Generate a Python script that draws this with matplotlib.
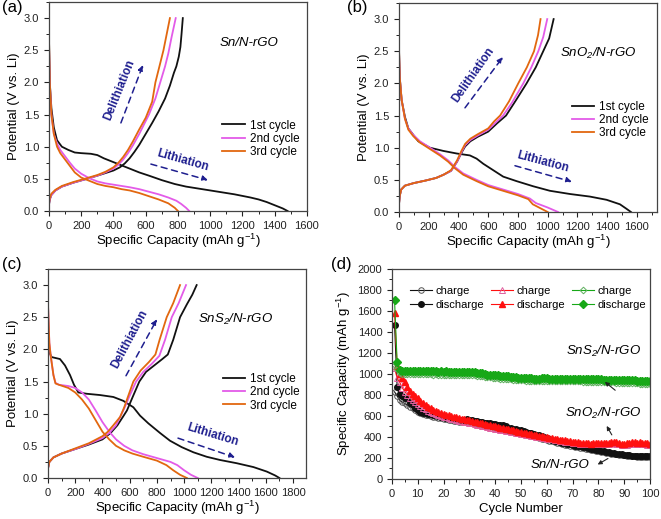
import matplotlib
matplotlib.use('Agg')
import matplotlib.pyplot as plt
from matplotlib.ticker import MultipleLocator

plt.rcParams['font.family'] = ['Liberation Sans', 'DejaVu Sans']
plt.rcParams['mathtext.fontset'] = 'custom'
plt.rcParams['mathtext.rm'] = 'Liberation Sans'
plt.rcParams['mathtext.it'] = 'Liberation Sans:italic'

# ---------------- data: panel (a) Sn/N-rGO ----------------
a1_dis_x = [0, 5, 15, 30, 50, 80, 120, 160, 200, 260, 300, 340, 400, 450, 500, 560, 620, 700, 780, 850,
            950, 1050, 1150, 1250, 1300, 1350, 1400, 1450, 1480]
a1_dis_y = [2.7, 2.0, 1.6, 1.3, 1.1, 1.0, 0.95, 0.91, 0.90, 0.89, 0.87, 0.82, 0.76, 0.71, 0.66, 0.60, 0.55, 0.48,
            0.42, 0.38, 0.34, 0.30, 0.26, 0.21, 0.18, 0.14, 0.09, 0.04, 0.0]
a1_chg_x = [0, 5, 15, 40, 80, 150, 220, 300, 350, 400, 440, 470, 500, 530, 560, 600, 640, 680, 720, 750,
            775, 790, 805, 815, 822, 830]
a1_chg_y = [0.10, 0.18, 0.25, 0.32, 0.38, 0.44, 0.49, 0.55, 0.59, 0.63, 0.68, 0.74, 0.82, 0.92, 1.03, 1.20,
            1.37, 1.55, 1.75, 1.95, 2.15, 2.25, 2.40, 2.55, 2.75, 3.0]
a2_dis_x = [0, 5, 15, 30, 50, 70, 100, 130, 160, 200, 250, 300, 350, 400, 450, 500, 560, 620, 680, 740,
            790, 820, 850, 870]
a2_dis_y = [2.6, 2.0, 1.5, 1.2, 1.05, 0.95, 0.85, 0.75, 0.66, 0.58, 0.51, 0.46, 0.43, 0.41, 0.39, 0.37, 0.34,
            0.30, 0.26, 0.21, 0.16, 0.11, 0.05, 0.0]
a2_chg_x = [0, 5, 15, 40, 80, 150, 220, 300, 350, 400, 430, 460, 490, 520, 560, 620, 660, 690, 720, 740,
            760, 786]
a2_chg_y = [0.10, 0.18, 0.25, 0.32, 0.38, 0.44, 0.49, 0.55, 0.60, 0.66, 0.72, 0.80, 0.90, 1.02, 1.20, 1.50,
            1.75, 2.0, 2.25, 2.45, 2.70, 3.0]
a3_dis_x = [0, 5, 15, 30, 50, 70, 100, 130, 160, 200, 250, 300, 350, 400, 450, 500, 560, 620, 680, 740,
            780, 800]
a3_dis_y = [2.7, 2.0, 1.5, 1.2, 1.0, 0.9, 0.8, 0.7, 0.6, 0.52, 0.47, 0.42, 0.39, 0.37, 0.34, 0.32, 0.28,
            0.23, 0.18, 0.12, 0.05, 0.0]
a3_chg_x = [0, 5, 15, 40, 80, 150, 220, 300, 350, 400, 430, 460, 490, 520, 560, 600, 640, 660, 690, 710,
            730, 750]
a3_chg_y = [0.12, 0.20, 0.27, 0.33, 0.39, 0.45, 0.50, 0.56, 0.61, 0.68, 0.75, 0.84, 0.95, 1.08, 1.27, 1.45,
            1.70, 2.0, 2.3, 2.5, 2.75, 3.0]

# ---------------- data: panel (b) SnO2/N-rGO ----------------
b1_dis_x = [0, 5, 18, 40, 63, 96, 130, 208, 298, 388, 477, 522, 567, 634, 701, 791, 903, 1015, 1150, 1284,
            1396, 1486, 1530, 1560]
b1_dis_y = [2.55, 2.1, 1.74, 1.48, 1.30, 1.20, 1.10, 1.0, 0.95, 0.91, 0.88, 0.83, 0.75, 0.65, 0.55, 0.48,
            0.40, 0.33, 0.28, 0.24, 0.19, 0.12, 0.05, 0.0]
b1_chg_x = [0, 5, 15, 40, 100, 180, 250, 300, 350, 390, 420, 445, 480, 530, 600, 660, 720, 790, 858, 920,
            970, 1010, 1040]
b1_chg_y = [0.12, 0.25, 0.35, 0.41, 0.45, 0.49, 0.53, 0.58, 0.64, 0.78, 0.92, 1.02, 1.10, 1.17, 1.25, 1.38,
            1.50, 1.75, 2.0, 2.25, 2.5, 2.7, 3.0]
b2_dis_x = [0, 5, 18, 40, 63, 96, 141, 208, 275, 332, 376, 432, 522, 600, 700, 800, 880, 920, 1000, 1070]
b2_dis_y = [2.5, 2.1, 1.74, 1.45, 1.30, 1.20, 1.10, 1.0, 0.9, 0.8, 0.7, 0.6, 0.5, 0.42, 0.35, 0.28, 0.21,
            0.14, 0.07, 0.0]
b2_chg_x = [0, 5, 15, 40, 100, 180, 250, 300, 350, 390, 420, 445, 480, 530, 600, 650, 700, 760, 836, 890,
            937, 970, 997]
b2_chg_y = [0.12, 0.25, 0.35, 0.41, 0.45, 0.49, 0.53, 0.58, 0.64, 0.78, 0.93, 1.04, 1.12, 1.19, 1.28, 1.39,
            1.50, 1.70, 2.0, 2.25, 2.5, 2.72, 3.0]
b3_dis_x = [0, 5, 18, 40, 63, 96, 141, 208, 275, 332, 376, 432, 522, 600, 700, 800, 870, 900, 950, 1000]
b3_dis_y = [2.55, 2.1, 1.74, 1.45, 1.28, 1.18, 1.08, 0.98, 0.88, 0.78, 0.68, 0.58, 0.48, 0.40, 0.33, 0.26,
            0.20, 0.12, 0.06, 0.0]
b3_chg_x = [0, 5, 15, 40, 100, 180, 250, 300, 350, 390, 420, 445, 480, 530, 600, 640, 680, 740, 802, 860,
            908, 935, 952]
b3_chg_y = [0.12, 0.25, 0.35, 0.41, 0.45, 0.49, 0.53, 0.58, 0.65, 0.80, 0.95, 1.06, 1.14, 1.21, 1.30, 1.41,
            1.50, 1.72, 2.0, 2.25, 2.5, 2.75, 3.0]

# ---------------- data: panel (c) SnS2/N-rGO ----------------
c1_dis_x = [0, 10, 27, 88, 125, 162, 191, 223, 284, 382, 480, 553, 627, 676, 737, 823, 896, 982, 1068, 1166,
            1264, 1386, 1509, 1607, 1668, 1700]
c1_dis_y = [2.2, 1.95, 1.88, 1.85, 1.75, 1.60, 1.45, 1.33, 1.31, 1.29, 1.26, 1.20, 1.10, 0.97, 0.85, 0.70,
            0.58, 0.48, 0.40, 0.33, 0.28, 0.23, 0.17, 0.10, 0.04, 0.0]
c1_chg_x = [0, 10, 40, 100, 200, 300, 400, 460, 510, 550, 580, 620, 671, 720, 780, 840, 880, 920, 970, 1020,
            1060, 1092]
c1_chg_y = [0.15, 0.25, 0.32, 0.38, 0.45, 0.52, 0.60, 0.70, 0.82, 0.95, 1.05, 1.25, 1.50, 1.65, 1.75, 1.85,
            1.92, 2.15, 2.5, 2.7, 2.85, 3.0]
c2_dis_x = [0, 10, 20, 40, 55, 80, 150, 200, 250, 300, 350, 400, 450, 500, 560, 620, 700, 800, 900, 950,
            1000, 1050, 1100]
c2_dis_y = [2.7, 2.1, 1.9, 1.6, 1.48, 1.45, 1.43, 1.40, 1.33, 1.22, 1.05, 0.87, 0.72, 0.60, 0.50, 0.43,
            0.37, 0.31, 0.25, 0.20, 0.12, 0.05, 0.0]
c2_chg_x = [0, 10, 40, 100, 200, 300, 400, 450, 500, 530, 560, 600, 647, 700, 760, 818, 860, 909, 960, 1014]
c2_chg_y = [0.15, 0.25, 0.32, 0.38, 0.45, 0.53, 0.62, 0.70, 0.82, 0.95, 1.08, 1.28, 1.50, 1.65, 1.77, 1.90,
            2.15, 2.5, 2.72, 3.0]
c3_dis_x = [0, 10, 20, 40, 55, 80, 150, 200, 250, 300, 350, 400, 450, 500, 560, 620, 700, 800, 870, 920,
            970, 1020]
c3_dis_y = [2.7, 2.1, 1.9, 1.6, 1.47, 1.45, 1.40, 1.33, 1.22, 1.08, 0.90, 0.72, 0.60, 0.50, 0.43, 0.38,
            0.33, 0.27, 0.20, 0.12, 0.05, 0.0]
c3_chg_x = [0, 10, 40, 100, 200, 300, 400, 440, 480, 530, 560, 590, 627, 680, 740, 789, 820, 872, 920, 970]
c3_chg_y = [0.15, 0.25, 0.32, 0.38, 0.46, 0.54, 0.65, 0.72, 0.82, 0.95, 1.10, 1.28, 1.50, 1.67, 1.80, 1.92,
            2.15, 2.5, 2.72, 3.0]

# ---------------- data: panel (d) cycling ----------------
cycles = list(range(1, 101))
sn_charge = [830, 790, 750, 730, 720, 700, 690, 675, 660, 640, 630, 615, 610, 605, 600, 595, 590, 585, 580, 575,
             570, 565, 560, 555, 550, 545, 540, 538, 545, 540, 535, 530, 525, 520, 515, 510, 505, 500, 495, 490,
             485, 480, 478, 470, 462, 455, 450, 445, 440, 435, 430, 422, 415, 412, 405, 398, 392, 385, 378, 372,
             365, 358, 350, 345, 338, 332, 327, 322, 317, 310, 305, 300, 298, 294, 290, 285, 280, 275, 270, 265,
             260, 255, 250, 246, 242, 238, 234, 230, 228, 225, 222, 220, 218, 215, 214, 212, 212, 210, 210, 208]
sn_discharge = [1470, 875, 810, 790, 770, 770, 725, 700, 680, 655, 640, 630, 625, 620, 615, 610, 605, 600, 595, 590,
                585, 580, 575, 570, 570, 565, 565, 560, 570, 565, 560, 555, 550, 545, 540, 535, 530, 530, 525, 520,
                515, 510, 510, 500, 490, 485, 480, 475, 470, 465, 460, 450, 440, 440, 430, 420, 415, 410, 400, 395,
                385, 375, 365, 360, 350, 345, 340, 335, 330, 320, 315, 310, 310, 305, 300, 295, 290, 285, 280, 275,
                270, 265, 260, 255, 250, 245, 240, 238, 235, 230, 228, 225, 222, 220, 220, 218, 218, 216, 215, 215]
sno2_charge = [1060, 960, 920, 870, 830, 800, 775, 750, 730, 715, 695, 680, 665, 650, 640, 630, 620, 610, 602, 595,
               588, 580, 573, 567, 561, 555, 550, 545, 540, 535, 529, 523, 517, 512, 507, 501, 496, 490, 485, 480,
               474, 469, 464, 459, 454, 449, 444, 440, 435, 430, 425, 420, 416, 412, 407, 403, 398, 394, 390, 385,
               381, 377, 373, 369, 365, 361, 357, 353, 350, 346, 343, 340, 337, 334, 336, 332, 330, 332, 335, 333,
               330, 332, 335, 334, 340, 338, 336, 334, 326, 322, 328, 334, 338, 336, 334, 338, 334, 330, 328, 322]
sno2_discharge = [1580, 1080, 1000, 965, 920, 880, 840, 810, 790, 770, 745, 725, 705, 690, 675, 660, 650, 640, 630,
                  620, 612, 605, 598, 592, 586, 580, 575, 570, 565, 560, 553, 547, 541, 535, 530, 524, 518, 512, 506,
                  500, 494, 488, 482, 477, 472, 467, 462, 457, 452, 447, 442, 437, 432, 427, 422, 417, 412, 407, 402,
                  397, 392, 388, 384, 380, 376, 372, 368, 364, 360, 356, 352, 348, 345, 342, 345, 340, 337, 340, 345,
                  342, 338, 340, 345, 343, 355, 350, 348, 345, 335, 330, 338, 345, 350, 348, 345, 350, 345, 340, 338,
                  330]
sns2_charge = [1090, 1050, 1005, 1000, 1002, 1000, 1001, 999, 1000, 998, 999, 997, 998, 996, 997, 995, 996, 994, 995,
               993, 994, 992, 993, 991, 992, 990, 991, 989, 990, 988, 987, 986, 985, 983, 980, 975, 970, 967, 964,
               960, 958, 956, 954, 952, 950, 948, 946, 944, 942, 940, 939, 938, 937, 936, 935, 935, 936, 937, 936,
               935, 935, 934, 934, 933, 933, 932, 932, 931, 931, 930, 930, 929, 929, 928, 927, 927, 926, 926, 925,
               925, 924, 923, 922, 921, 920, 919, 918, 917, 916, 915, 914, 913, 912, 911, 910, 909, 908, 907, 906,
               905]
sns2_discharge = [1700, 1110, 1035, 1030, 1030, 1028, 1030, 1027, 1028, 1026, 1028, 1025, 1027, 1025, 1026, 1024,
                  1025, 1023, 1025, 1022, 1024, 1022, 1023, 1021, 1022, 1020, 1021, 1019, 1020, 1018, 1017, 1015,
                  1014, 1012, 1010, 1000, 995, 992, 990, 988, 986, 984, 982, 980, 978, 976, 972, 968, 965, 965, 963,
                  962, 960, 958, 955, 955, 957, 958, 958, 958, 957, 957, 956, 956, 955, 955, 955, 954, 954, 953, 953,
                  952, 952, 951, 950, 950, 950, 949, 949, 948, 948, 947, 946, 946, 945, 944, 944, 943, 942, 942, 941,
                  940, 940, 939, 938, 938, 937, 936, 935, 935]

C_BLACK = '#111111'
C_PINK = '#e35be8'
C_ORANGE = '#e2670f'
NAVY = '#1f1f8f'
C_RED = '#ff1010'
C_GREEN = '#17a817'

GCAP = 'Specific Capacity (mAh g$^{\\mathregular{-1}}$)'

fig = plt.figure(figsize=(6.61, 5.19), dpi=100)


def style_axes(ax):
    for s in ax.spines.values():
        s.set_color('#444444')
        s.set_linewidth(0.9)
    ax.tick_params(which='both', direction='out', top=False, right=False, labelsize=8, colors='#222222')
    ax.tick_params(which='major', length=3.5, width=0.8)
    ax.tick_params(which='minor', length=2, width=0.7)


def voltage_panel(rect, curves, xmax, xmajor, title, legend_pos, deli, lith):
    ax = fig.add_axes(rect)
    colors = [C_BLACK, C_PINK, C_ORANGE]
    labels = ['1st cycle', '2nd cycle', '3rd cycle']
    for (dx, dy, cx, cy), col, lab in zip(curves, colors, labels):
        ax.plot(dx, dy, color=col, lw=1.3, label=lab)
        ax.plot(cx, cy, color=col, lw=1.3)
    ax.set_xlim(0, xmax)
    ax.set_ylim(0, 3.25)
    ax.xaxis.set_major_locator(MultipleLocator(xmajor))
    ax.xaxis.set_minor_locator(MultipleLocator(xmajor / 2))
    ax.yaxis.set_major_locator(MultipleLocator(0.5))
    ax.yaxis.set_minor_locator(MultipleLocator(0.25))
    ax.yaxis.set_major_formatter(plt.FormatStrFormatter('%.1f'))
    ax.set_xlabel(GCAP, fontsize=9.5, labelpad=1)
    ax.set_ylabel('Potential (V vs. Li)', fontsize=9.5, labelpad=3)
    style_axes(ax)
    ax.text(title[1], title[2], title[0], fontsize=9.5, fontstyle='italic', ha='center', va='center')
    ax.legend(loc='center left', bbox_to_anchor=legend_pos, frameon=False, fontsize=8.5,
              handlelength=1.9, handletextpad=0.4, labelspacing=0.12, borderpad=0, borderaxespad=0)
    # dashed direction arrows
    for (x0, y0, x1, y1, tx, ty, rot, word) in (deli, lith):
        ax.annotate('', xy=(x1, y1), xytext=(x0, y0),
                    arrowprops=dict(arrowstyle='-|>', linestyle=(0, (4, 3)), color=NAVY, lw=1.1,
                                    mutation_scale=8, shrinkA=0, shrinkB=0))
        ax.text(tx, ty, word, color=NAVY, fontsize=8.5, fontweight='bold', rotation=rot,
                ha='center', va='center', rotation_mode='anchor')
    return ax


voltage_panel([0.0741, 0.5934, 0.3903, 0.4027],
              [(a1_dis_x, a1_dis_y, a1_chg_x, a1_chg_y),
               (a2_dis_x, a2_dis_y, a2_chg_x, a2_chg_y),
               (a3_dis_x, a3_dis_y, a3_chg_x, a3_chg_y)],
              1600, 200, ('Sn/N-rGO', 1243, 2.61), (0.672, 0.345),
              (446, 1.37, 583, 2.27, 440, 1.88, 68, 'Delithiation'),
              (632, 0.73, 986, 0.48, 831, 0.78, -16, 'Lithiation'))
fig.text(0.003, 0.985, '(a)', fontsize=12, va='center', ha='left')

voltage_panel([0.6036, 0.5915, 0.3903, 0.4027],
              [(b1_dis_x, b1_dis_y, b1_chg_x, b1_chg_y),
               (b2_dis_x, b2_dis_y, b2_chg_x, b2_chg_y),
               (b3_dis_x, b3_dis_y, b3_chg_x, b3_chg_y)],
              1735, 200, ('SnO$_{\\mathregular{2}}$/N-rGO', 1338, 2.47), (0.67, 0.44),
              (444, 1.62, 699, 2.41, 497, 2.13, 55, 'Delithiation'),
              (780, 0.72, 1163, 0.47, 968, 0.78, -15, 'Lithiation'))
fig.text(0.525, 0.985, '(b)', fontsize=12, va='center', ha='left')

voltage_panel([0.0726, 0.0790, 0.3903, 0.4027],
              [(c1_dis_x, c1_dis_y, c1_chg_x, c1_chg_y),
               (c2_dis_x, c2_dis_y, c2_chg_x, c2_chg_y),
               (c3_dis_x, c3_dis_y, c3_chg_x, c3_chg_y)],
              1895, 200, ('SnS$_{\\mathregular{2}}$/N-rGO', 1378, 2.46), (0.678, 0.411),
              (573, 1.59, 801, 2.47, 602, 2.16, 62, 'Delithiation'),
              (955, 0.62, 1374, 0.32, 1212, 0.67, -17, 'Lithiation'))
fig.text(0.003, 0.49, '(c)', fontsize=12, va='center', ha='left')

# ---------------- panel (d) ----------------
axd = fig.add_axes([0.5930, 0.0771, 0.3904, 0.4046])
ms = 4.0
axd.plot(cycles, sn_charge, color=C_BLACK, lw=0.8, marker='o', ms=ms, mfc='none', mec='#555555', mew=0.7,
         label='charge')
axd.plot(cycles, sn_discharge, color=C_BLACK, lw=0.8, marker='o', ms=ms, mfc=C_BLACK, mec=C_BLACK,
         label='discharge')
axd.plot(cycles, sno2_charge, color=C_RED, lw=0.8, marker='^', ms=ms, mfc='none', mec='#e060a0', mew=0.7,
         label='charge')
axd.plot(cycles, sno2_discharge, color=C_RED, lw=0.8, marker='^', ms=ms + 0.4, mfc=C_RED, mec=C_RED,
         label='discharge')
axd.plot(cycles, sns2_charge, color=C_GREEN, lw=0.8, marker='D', ms=ms - 0.6, mfc='none', mec='#60b060', mew=0.7,
         label='charge')
axd.plot(cycles, sns2_discharge, color=C_GREEN, lw=0.8, marker='D', ms=ms - 0.4, mfc=C_GREEN, mec=C_GREEN,
         label='discharge')
axd.set_xlim(0, 100)
axd.set_ylim(0, 2000)
axd.xaxis.set_major_locator(MultipleLocator(10))
axd.xaxis.set_minor_locator(MultipleLocator(5))
axd.yaxis.set_major_locator(MultipleLocator(200))
axd.yaxis.set_minor_locator(MultipleLocator(100))
axd.set_xlabel('Cycle Number', fontsize=9.5, labelpad=3)
axd.set_ylabel(GCAP, fontsize=9.5, labelpad=3)
style_axes(axd)
axd.legend(ncol=3, loc='center left', bbox_to_anchor=(0.07, 0.862), frameon=False, fontsize=8,
           handlelength=2.0, handletextpad=0.3, columnspacing=0.6, labelspacing=0.3,
           borderpad=0, borderaxespad=0)

axd.text(82, 1215, 'SnS$_{\\mathregular{2}}$/N-rGO', fontsize=9.5, fontstyle='italic', ha='center', va='center')
axd.text(82, 620, 'SnO$_{\\mathregular{2}}$/N-rGO', fontsize=9.5, fontstyle='italic', ha='center', va='center')
axd.text(65, 133, 'Sn/N-rGO', fontsize=9.5, fontstyle='italic', ha='center', va='center')
for (x0, y0, x1, y1) in [(86.5, 845, 82.5, 925), (85.2, 420, 83.2, 505), (83.7, 195, 79.7, 138)]:
    axd.annotate('', xy=(x1, y1), xytext=(x0, y0),
                 arrowprops=dict(arrowstyle='-|>', color='#222222', lw=0.8, mutation_scale=6,
                                 shrinkA=0, shrinkB=0))
fig.text(0.5, 0.49, '(d)', fontsize=12, va='center', ha='left')

fig.savefig('out.png', dpi=100)
